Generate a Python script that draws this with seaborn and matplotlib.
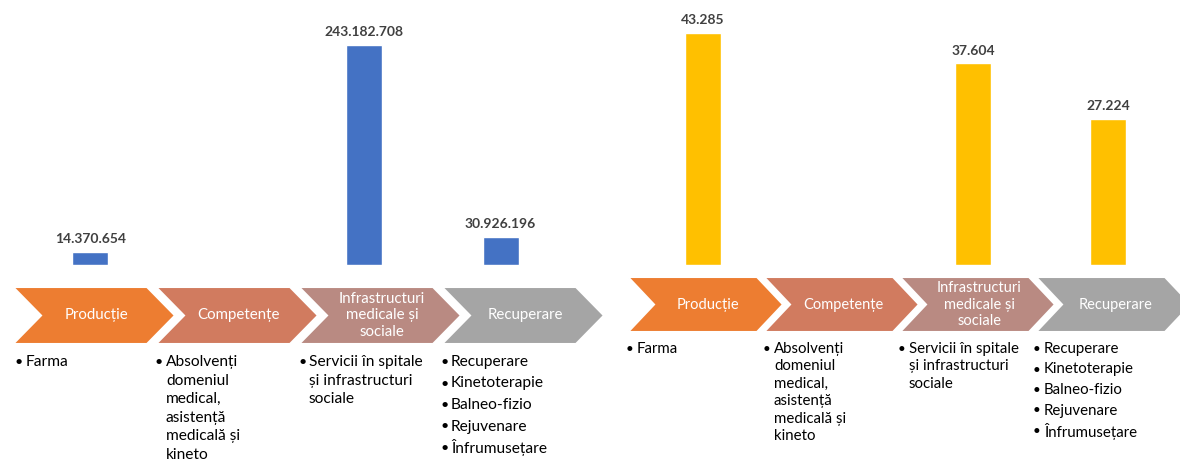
import matplotlib
matplotlib.use("Agg")
import matplotlib.pyplot as plt
from matplotlib.patches import Polygon
import seaborn as sns
import pandas as pd
import numpy as np

# data
stages = ["Producție", "Competențe", "Infrastructuri medicale și sociale", "Recuperare"]
stage_labels = ["Producție", "Competențe", "Infrastructuri\nmedicale și\nsociale", "Recuperare"]
values_lei = [14370654, np.nan, 243182708, 30926196]
values_units = [43285, np.nan, 37604, 27224]

bullets = [
    [["Farma"]],
    [["Absolvenți", "domeniul", "medical,", "asistență", "medicală și", "kineto"]],
    [["Servicii în spitale", "și infrastructuri", "sociale"]],
    [["Recuperare"], ["Kinetoterapie"], ["Balneo-fizio"], ["Rejuvenare"], ["Înfrumusețare"]],
]

chevron_colors = ["#ED7D31", "#D17B5F", "#B98A82", "#A5A5A5"]

sns.set_theme(style="white")
plt.rcParams["font.family"] = ["Lato", "DejaVu Sans"]

W, H = 1180, 459
fig = plt.figure(figsize=(W / 100, H / 100), dpi=100)


def fmt(v):
    return f"{v:,.0f}".replace(",", ".")


def bar_panel(left_px, width_px, values, color, ymax):
    # bars sit on y = 265 px from the top, 250 px tall axes
    ax = fig.add_axes([left_px / W, (H - 265) / H, width_px / W, 250 / H])
    df = pd.DataFrame({"stage": stages, "value": values})
    sns.barplot(data=df, x="stage", y="value", order=stages, color=color,
                saturation=1, width=0.265, ax=ax)
    ax.set_xlim(-0.5, 3.5)
    ax.set_ylim(0, ymax)
    for c in ax.containers:
        ax.bar_label(c, fmt=fmt, padding=5, fontsize=10, fontweight="bold",
                     color="#404040")
    ax.set(xticks=[], yticks=[], xlabel="", ylabel="")
    sns.despine(ax=ax, left=True, bottom=True)
    ax.patch.set_alpha(0)
    return ax


bar_panel(22, 547, values_lei, "#4472C4", 243182708 * 250 / 220)
bar_panel(635, 541, values_units, "#FFC000", 43285 * 250 / 232)

# overlay in pixel coordinates for the process chevrons and bullet lists
ov = fig.add_axes([0, 0, 1, 1], zorder=-1)
ov.set_xlim(0, W)
ov.set_ylim(H, 0)
ov.axis("off")

panels = [
    dict(x0=13, step=143, w=162, d=28, top=287, h=57, fs=10.8,
         by=362, line=18.6, item=21.5, bfs=11.2, bx=[15, 155, 298, 440]),
    dict(x0=628, step=136, w=155, d=26, top=277, h=55, fs=10.5,
         by=349, line=17.4, item=20.5, bfs=10.8, bx=[626, 763, 898, 1033]),
]

for p in panels:
    for i, (lab, col) in enumerate(zip(stage_labels, chevron_colors)):
        x0 = p["x0"] + i * p["step"]
        y0, y1 = p["top"], p["top"] + p["h"]
        ym = (y0 + y1) / 2
        w, d = p["w"], p["d"]
        pts = [(x0, y0), (x0 + w - d, y0), (x0 + w, ym), (x0 + w - d, y1),
               (x0, y1), (x0 + d, ym)]
        ov.add_patch(Polygon(pts, closed=True, facecolor=col, edgecolor="white",
                             linewidth=1.5))
        ov.text(x0 + w / 2 + 2, ym, lab, ha="center", va="center", color="white",
                fontsize=p["fs"], linespacing=1.2)

        # bullet list
        y = p["by"]
        bx = p["bx"][i]
        for item in bullets[i]:
            ov.text(bx, y, "•", ha="left", va="center", fontsize=p["bfs"] - 1,
                    color="black")
            for k, line in enumerate(item):
                ov.text(bx + 11, y + k * p["line"], line, ha="left", va="center",
                        fontsize=p["bfs"], color="black")
            y += (len(item) - 1) * p["line"] + p["item"]

fig.savefig("out.png", dpi=100)
